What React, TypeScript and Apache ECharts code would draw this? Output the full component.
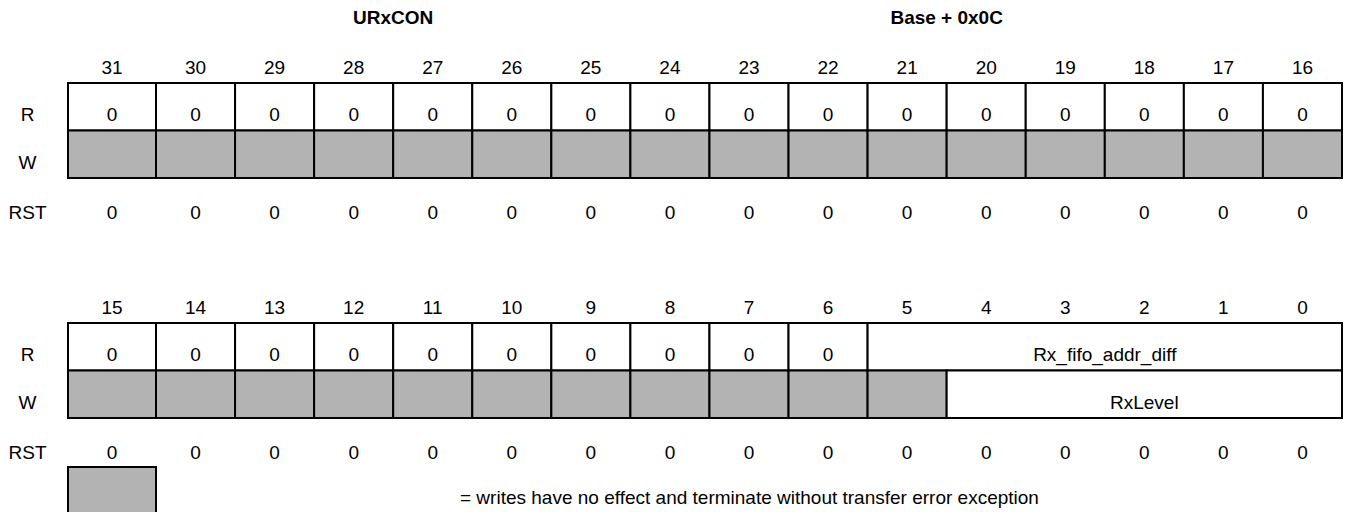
import React, { useEffect, useRef } from "react";
import * as echarts from "echarts";

// ---- Data ----
const REGISTER_NAME = "URxCON";
const REGISTER_ADDRESS = "Base + 0x0C";
const ROW_LABELS = ["R", "W", "RST"];

const HIGH_BITS = ["31", "30", "29", "28", "27", "26", "25", "24", "23", "22", "21", "20", "19", "18", "17", "16"];
const HIGH_READ = ["0", "0", "0", "0", "0", "0", "0", "0", "0", "0", "0", "0", "0", "0", "0", "0"];
// null = reserved (shaded) cell
const HIGH_WRITE = [null, null, null, null, null, null, null, null, null, null, null, null, null, null, null, null];
const HIGH_RESET = ["0", "0", "0", "0", "0", "0", "0", "0", "0", "0", "0", "0", "0", "0", "0", "0"];

const LOW_BITS = ["15", "14", "13", "12", "11", "10", "9", "8", "7", "6", "5", "4", "3", "2", "1", "0"];
// [label, msb, lsb]; label null = reserved (shaded)
const LOW_READ_FIELDS: [string | null, number, number][] = [
  ["0", 15, 15], ["0", 14, 14], ["0", 13, 13], ["0", 12, 12], ["0", 11, 11],
  ["0", 10, 10], ["0", 9, 9], ["0", 8, 8], ["0", 7, 7], ["0", 6, 6],
  ["Rx_fifo_addr_diff", 5, 0],
];
const LOW_WRITE_FIELDS: [string | null, number, number][] = [
  [null, 15, 15], [null, 14, 14], [null, 13, 13], [null, 12, 12], [null, 11, 11],
  [null, 10, 10], [null, 9, 9], [null, 8, 8], [null, 7, 7], [null, 6, 6], [null, 5, 5],
  ["RxLevel", 4, 0],
];
const LOW_RESET = ["0", "0", "0", "0", "0", "0", "0", "0", "0", "0", "0", "0", "0", "0", "0", "0"];

const NOTE_TEXT = "= writes have no effect and terminate without transfer error exception";

// ---- Layout / style ----
const FONT = "'Liberation Sans', Arial, Helvetica, sans-serif";
const FONT_SIZE = 19;
const GRAY = "#b3b3b3";
const FIRST_COL_LEFT = -0.113;
const LABEL_X = -0.625;
const Y_TITLE = -1.37;
const Y_BITS = -0.33;
const Y_TEXT_OFF = 0.67;
const Y_RST = 2.72;
const NOTE_BOX_TOP = 3.03;
const NOTE_BOX_BOTTOM = 4.1;
const NOTE_Y = 3.68;
const NOTE_X = 4.845;

type Item =
  | { kind: "cell"; c0: number; c1: number; row: number; label: string | null }
  | { kind: "text"; x: number; y: number; label: string; bold?: boolean; align?: string };

function buildPanel(
  topBit: number,
  bits: string[],
  readFields: [string | null, number, number][],
  writeFields: [string | null, number, number][],
  reset: string[]
): Item[] {
  const items: Item[] = [];
  const addFields = (fields: [string | null, number, number][], row: number) => {
    fields.forEach(([label, msb, lsb]) => {
      items.push({ kind: "cell", c0: topBit - msb, c1: topBit - lsb + 1, row, label });
    });
  };
  addFields(readFields, 0);
  addFields(writeFields, 1);
  bits.forEach((b, i) => items.push({ kind: "text", x: i + 0.5, y: Y_BITS, label: b }));
  reset.forEach((v, i) => items.push({ kind: "text", x: i + 0.5, y: Y_RST, label: v }));
  items.push({ kind: "text", x: LABEL_X, y: Y_TEXT_OFF, label: ROW_LABELS[0] });
  items.push({ kind: "text", x: LABEL_X, y: 1 + Y_TEXT_OFF, label: ROW_LABELS[1] });
  items.push({ kind: "text", x: LABEL_X, y: Y_RST, label: ROW_LABELS[2] });
  return items;
}

const highItems: Item[] = buildPanel(
  31,
  HIGH_BITS,
  HIGH_READ.map((v, i) => [v, 31 - i, 31 - i] as [string | null, number, number]),
  HIGH_WRITE.map((v, i) => [v, 31 - i, 31 - i] as [string | null, number, number]),
  HIGH_RESET
);
highItems.push({ kind: "text", x: 4, y: Y_TITLE, label: REGISTER_NAME, bold: true });
highItems.push({ kind: "text", x: 11, y: Y_TITLE, label: REGISTER_ADDRESS, bold: true });

const lowItems: Item[] = buildPanel(15, LOW_BITS, LOW_READ_FIELDS, LOW_WRITE_FIELDS, LOW_RESET);

function makeRender(items: Item[]) {
  return (params: any, api: any) => {
    const it = items[params.dataIndex];
    if (it.kind === "cell") {
      const left = it.c0 === 0 ? FIRST_COL_LEFT : it.c0;
      const p0 = api.coord([left, it.row]);
      const p1 = api.coord([it.c1, it.row + 1]);
      const mid = api.coord([(it.c0 + it.c1) / 2, it.row + Y_TEXT_OFF]);
      const midX = it.c0 === 0 ? (p0[0] + p1[0]) / 2 : mid[0];
      const children: any[] = [
        {
          type: "rect",
          shape: { x: p0[0], y: p0[1], width: p1[0] - p0[0], height: p1[1] - p0[1] },
          style: { fill: it.label === null ? GRAY : "#ffffff", stroke: "#000000", lineWidth: 2 },
        },
      ];
      if (it.label !== null) {
        children.push({
          type: "text",
          style: {
            text: it.label,
            x: midX,
            y: mid[1],
            align: "center",
            verticalAlign: "middle",
            fill: "#000000",
            fontFamily: FONT,
            fontSize: FONT_SIZE,
          },
        });
      }
      return { type: "group", children };
    }
    const p = api.coord([it.x, it.y]);
    let px = p[0];
    return {
      type: "text",
      style: {
        text: it.label,
        x: px,
        y: p[1],
        align: it.align || "center",
        verticalAlign: "middle",
        fill: "#000000",
        fontFamily: FONT,
        fontSize: FONT_SIZE,
        fontWeight: it.bold ? "bold" : "normal",
      },
    };
  };
}

// First column center adjustment for text (bit labels / reset) in col 0
function fixFirstCol(items: Item[]) {
  items.forEach((it) => {
    if (it.kind === "text" && it.x === 0.5) it.x = (FIRST_COL_LEFT + 1) / 2;
  });
}
fixFirstCol(highItems);
fixFirstCol(lowItems);

// note (legend) items in the low panel
lowItems.push({ kind: "cell", c0: 0, c1: 1, row: NOTE_BOX_TOP, label: null } as Item);
lowItems.push({ kind: "text", x: NOTE_X, y: NOTE_Y, label: NOTE_TEXT, align: "left" });

export default function App() {
  const ref = useRef<HTMLDivElement>(null);
  useEffect(() => {
    if (!ref.current) return;
    const chart = echarts.init(ref.current, null, { renderer: "svg" });
    const noteIdx = lowItems.length - 2;
    const lowRender = makeRender(lowItems);
    const lowRenderWrapped = (params: any, api: any) => {
      if (params.dataIndex === noteIdx) {
        const p0 = api.coord([FIRST_COL_LEFT, NOTE_BOX_TOP]);
        const p1 = api.coord([1, NOTE_BOX_BOTTOM]);
        return {
          type: "rect",
          shape: { x: p0[0], y: p0[1], width: p1[0] - p0[0], height: p1[1] - p0[1] },
          style: { fill: GRAY, stroke: "#000000", lineWidth: 2 },
        };
      }
      return lowRender(params, api);
    };
    const axisX = (gridIndex: number) => ({
      type: "value",
      gridIndex,
      min: FIRST_COL_LEFT,
      max: 16,
      show: false,
    });
    const axisY = (gridIndex: number) => ({
      type: "value",
      gridIndex,
      min: 0,
      max: 2,
      inverse: true,
      show: false,
    });
    chart.setOption({
      animation: false,
      backgroundColor: "#ffffff",
      grid: [
        { left: 68, right: 4, top: 83, height: 95 },
        { left: 68, right: 4, top: 323, height: 95 },
      ],
      xAxis: [axisX(0), axisX(1)],
      yAxis: [axisY(0), axisY(1)],
      series: [
        {
          type: "custom",
          xAxisIndex: 0,
          yAxisIndex: 0,
          clip: false,
          silent: true,
          renderItem: makeRender(highItems),
          data: highItems.map((_, i) => [0, 0, i]),
        },
        {
          type: "custom",
          xAxisIndex: 1,
          yAxisIndex: 1,
          clip: false,
          silent: true,
          renderItem: lowRenderWrapped,
          data: lowItems.map((_, i) => [0, 0, i]),
        },
      ],
    });
    return () => chart.dispose();
  }, []);
  return (
    <div
      ref={ref}
      style={{ position: "fixed", left: 0, top: 0, width: 1346, height: 512 }}
    />
  );
}
